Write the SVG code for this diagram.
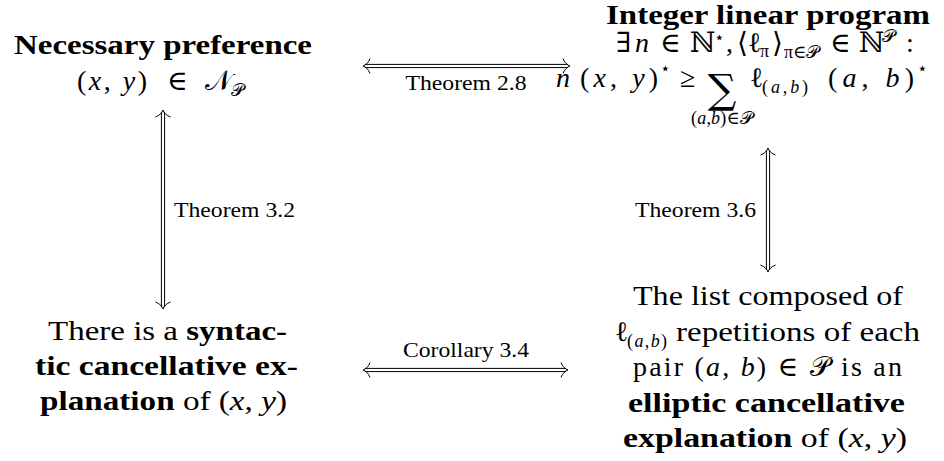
<svg xmlns="http://www.w3.org/2000/svg" xmlns:xlink="http://www.w3.org/1999/xlink" width="944" height="461" viewBox="0 0 944 461" font-family="'Liberation Serif', serif">
<style>
text { font-family: "Liberation Serif", "DejaVu Serif", serif; fill: #000; }
.m { font-size: 28px; }
.b { font-weight: bold; }
.i { font-style: italic; }
.sym { font-family: "DejaVu Serif", "DejaVu Sans", "Noto Sans", serif; }
.sc { font-size: 18px; }
.sup { font-size: 17px; }
.lbl { font-size: 22px; }
.dbl { stroke: #000; stroke-width: 1; fill: none; }
</style>
<defs>
<path id="tip" d="M -7,-7.5 C -5.5,-3.5 -3,-1 0,0 C -3,1 -5.5,3.5 -7,7.5" fill="none" stroke="#000" stroke-width="1"/>
</defs>
<rect width="944" height="461" fill="#fff"/>

<g id="n-necessary">
<text x="163" y="54" text-anchor="middle" class="m b" textLength="298" lengthAdjust="spacingAndGlyphs">Necessary preference</text>
<text x="77" y="90" class="m" textLength="70" lengthAdjust="spacing">(<tspan class="i">x</tspan>, <tspan class="i">y</tspan>)</text>
<text x="167" y="90" class="m sym">∈</text>
<text x="205" y="90" class="m sym">𝒩</text>
<text x="231" y="96" class="sc sym">𝒫</text>
</g>

<g id="n-ilp">
<text x="768" y="24" text-anchor="middle" class="m b" textLength="324" lengthAdjust="spacingAndGlyphs">Integer linear program</text>
<text x="616" y="52" class="m sym">∃</text>
<text x="635" y="52" class="m i">n</text>
<text x="660" y="52" class="m sym">∈</text>
<text x="690" y="52" class="m sym">ℕ</text>
<text x="714" y="43" class="sup sym">⋆</text>
<text x="726" y="52" class="m">,</text>
<text x="737" y="52" class="m sym">⟨</text>
<text x="748" y="52" class="m">ℓ</text>
<text x="760" y="57" class="sc">π</text>
<text x="772" y="52" class="m sym">⟩</text>
<text x="784" y="58" class="sc">π<tspan class="sym">∈𝒫</tspan></text>
<text x="830" y="52" class="m sym">∈</text>
<text x="859" y="52" class="m sym">ℕ</text>
<text x="882" y="42" class="sc sym">𝒫</text>
<text x="906" y="52" class="m">:</text>

<text x="556" y="87" class="m i">n</text>
<text x="580" y="87" class="m" textLength="78" lengthAdjust="spacing">(<tspan class="i">x</tspan>, <tspan class="i">y</tspan>)</text>
<text x="660" y="74" class="sup sym">⋆</text>
<text x="680" y="87" class="m">≥</text>
<text x="722" y="103" text-anchor="middle" font-size="40" class="sym">∑</text>
<text x="722" y="124" text-anchor="middle" class="sc" textLength="62" lengthAdjust="spacing">(<tspan class="i">a</tspan>,<tspan class="i">b</tspan>)<tspan class="sym">∈𝒫</tspan></text>
<text x="750" y="87" class="m">ℓ</text>
<text x="762" y="93" class="sc" textLength="46" lengthAdjust="spacing">(<tspan class="i">a</tspan>,<tspan class="i">b</tspan>)</text>
<text x="828" y="87" class="m" textLength="86" lengthAdjust="spacing">(<tspan class="i">a</tspan>, <tspan class="i">b</tspan>)</text>
<text x="917" y="74" class="sup sym">⋆</text>
</g>

<g id="n-syntactic">
<text x="48" y="340" class="m" textLength="239" lengthAdjust="spacingAndGlyphs">There is a <tspan class="b">syntac-</tspan></text>
<text x="35" y="375" class="m b" textLength="263" lengthAdjust="spacingAndGlyphs">tic cancellative ex-</text>
<text x="40" y="410" class="m" textLength="247" lengthAdjust="spacingAndGlyphs"><tspan class="b">planation</tspan> of (<tspan class="i">x</tspan>, <tspan class="i">y</tspan>)</text>
</g>

<g id="n-elliptic">
<text x="633" y="305" class="m" textLength="270" lengthAdjust="spacingAndGlyphs">The list composed of</text>
<text x="615" y="340.5" class="m">ℓ</text>
<text x="627" y="347" class="sc" textLength="40" lengthAdjust="spacing">(<tspan class="i">a</tspan>,<tspan class="i">b</tspan>)</text>
<text x="676" y="340.5" class="m" textLength="244" lengthAdjust="spacingAndGlyphs">repetitions of each</text>
<text x="633" y="376" class="m" textLength="269" lengthAdjust="spacing">pair (<tspan class="i">a</tspan>, <tspan class="i">b</tspan>) ∈ 𝒫 is an</text>
<text x="628" y="411.5" class="m b" textLength="277" lengthAdjust="spacingAndGlyphs">elliptic cancellative</text>
<text x="623" y="447" class="m" textLength="284" lengthAdjust="spacingAndGlyphs"><tspan class="b">explanation</tspan> of (<tspan class="i">x</tspan>, <tspan class="i">y</tspan>)</text>
</g>

<g id="connectors">
<g class="dbl">
<line x1="365" y1="64.4" x2="568" y2="64.4"/>
<line x1="365" y1="67.6" x2="568" y2="67.6"/>
<line x1="365" y1="368.4" x2="566" y2="368.4"/>
<line x1="365" y1="371.6" x2="566" y2="371.6"/>
<line x1="161.4" y1="112" x2="161.4" y2="307"/>
<line x1="164.6" y1="112" x2="164.6" y2="307"/>
<line x1="766.4" y1="150" x2="766.4" y2="270"/>
<line x1="769.6" y1="150" x2="769.6" y2="270"/>
</g>
<use xlink:href="#tip" transform="translate(570,66)"/>
<use xlink:href="#tip" transform="translate(363,66) rotate(180)"/>
<use xlink:href="#tip" transform="translate(568,370)"/>
<use xlink:href="#tip" transform="translate(363,370) rotate(180)"/>
<use xlink:href="#tip" transform="translate(163,110) rotate(-90)"/>
<use xlink:href="#tip" transform="translate(163,309) rotate(90)"/>
<use xlink:href="#tip" transform="translate(768,148) rotate(-90)"/>
<use xlink:href="#tip" transform="translate(768,272) rotate(90)"/>
<text x="466" y="90" text-anchor="middle" class="lbl" textLength="121" lengthAdjust="spacingAndGlyphs">Theorem 2.8</text>
<text x="466" y="357" text-anchor="middle" class="lbl" textLength="126" lengthAdjust="spacingAndGlyphs">Corollary 3.4</text>
<text x="174" y="217" class="lbl" textLength="121" lengthAdjust="spacingAndGlyphs">Theorem 3.2</text>
<text x="756" y="217" text-anchor="end" class="lbl" textLength="121" lengthAdjust="spacingAndGlyphs">Theorem 3.6</text>
</g>
</svg>
